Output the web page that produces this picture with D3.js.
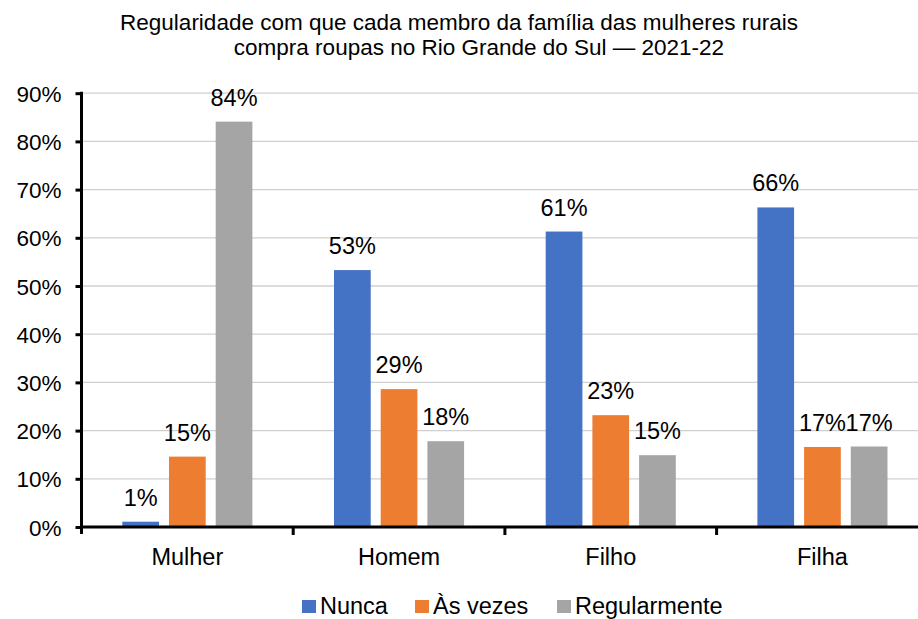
<!DOCTYPE html>
<html>
<head>
<meta charset="utf-8">
<script src="https://cdn.jsdelivr.net/npm/d3@7"></script>
<style>
    body { margin: 0; background: #fff; }
    svg { display: block; font-family: "Liberation Sans", Arial, sans-serif; }
</style>
</head>
<body>
<svg id="chart" width="918" height="619"></svg>
<script>
const titleLines = [
    "Regularidade com que cada membro da família das mulheres rurais",
    "compra roupas no Rio Grande do Sul — 2021-22"
];
const categories = ["Mulher", "Homem", "Filho", "Filha"];
const seriesNames = ["Nunca", "Às vezes", "Regularmente"];
const nunca = [1.1, 53.3, 61.3, 66.3];
const asVezes = [14.6, 28.6, 23.2, 16.6];
const regularmente = [84.1, 17.8, 14.9, 16.7];
const yTicks = [0, 10, 20, 30, 40, 50, 60, 70, 80, 90];
const colors = ["#4472C4", "#ED7D31", "#A5A5A5"];

const seriesValues = [nunca, asVezes, regularmente];

const svg = d3.select("#chart");

const plot = {left: 81.5, right: 928.3, top: 93.2, bottom: 527};

const x0 = d3.scaleBand()
    .domain(categories)
    .range([plot.left, plot.right]);

const x1 = d3.scaleBand()
    .domain(seriesNames)
    .range([0, x0.bandwidth()])
    .paddingInner(0.214)
    .paddingOuter(0.874);

const y = d3.scaleLinear()
    .domain([0, 90])
    .range([plot.bottom, plot.top]);

const color = d3.scaleOrdinal()
    .domain(seriesNames)
    .range(colors);

/**
 * Title, two centered lines
 */
svg.append("g")
    .selectAll("text")
    .data(titleLines)
    .join("text")
    .attr("x", (d, i) => i === 0 ? 459 : 479)
    .attr("y", (d, i) => 30 + i * 24.5)
    .attr("text-anchor", "middle")
    .attr("font-size", "22.5px")
    .attr("fill", "#000")
    .text(d => d);

// gridlines
svg.append("g")
    .selectAll("line")
    .data(yTicks.filter(t => t > 0))
    .join("line")
    .attr("x1", plot.left)
    .attr("x2", 918)
    .attr("y1", d => y(d))
    .attr("y2", d => y(d))
    .attr("stroke", "#D0D0D0")
    .attr("stroke-width", 1.3);

// bars
const groups = svg.append("g")
    .selectAll("g")
    .data(categories)
    .join("g")
    .attr("transform", d => `translate(${x0(d)},0)`);

const bars = groups.selectAll("g")
    .data((c, ci) => seriesNames.map((s, si) => ({series: s, value: seriesValues[si][ci]})))
    .join("g");

bars.append("rect")
    .attr("x", d => x1(d.series))
    .attr("y", d => y(d.value))
    .attr("width", x1.bandwidth())
    .attr("height", d => y(0) - y(d.value))
    .attr("fill", d => color(d.series));

bars.append("text")
    .attr("x", d => x1(d.series) + x1.bandwidth() / 2)
    .attr("y", d => y(d.value) - 16)
    .attr("text-anchor", "middle")
    .attr("font-size", "23.5px")
    .attr("fill", "#000")
    .text(d => Math.round(d.value) + "%");

/**
 * Y axis with outside tick marks
 */
const yAxis = svg.append("g")
    .attr("transform", `translate(${plot.left},0)`)
    .call(d3.axisLeft(y)
        .tickValues(yTicks)
        .tickSize(6)
        .tickPadding(14)
        .tickFormat(d => d + "%"));

yAxis.select(".domain").remove();
yAxis.selectAll(".tick line")
    .attr("stroke", "#000")
    .attr("stroke-width", 3);
yAxis.selectAll(".tick text")
    .attr("font-size", "22.5px")
    .attr("font-family", "Liberation Sans, Arial, sans-serif")
    .attr("fill", "#000")
    .attr("dy", "0.36em");

svg.append("line")
    .attr("x1", plot.left)
    .attr("x2", plot.left)
    .attr("y1", plot.top - 1.5)
    .attr("y2", plot.bottom + 7)
    .attr("stroke", "#000")
    .attr("stroke-width", 3);

/**
 * X axis, ticks between categories
 */
svg.append("line")
    .attr("x1", plot.left - 1.5)
    .attr("x2", 918)
    .attr("y1", plot.bottom)
    .attr("y2", plot.bottom)
    .attr("stroke", "#000")
    .attr("stroke-width", 3);

svg.append("g")
    .selectAll("line")
    .data(categories.slice(1))
    .join("line")
    .attr("x1", d => x0(d))
    .attr("x2", d => x0(d))
    .attr("y1", plot.bottom)
    .attr("y2", plot.bottom + 8)
    .attr("stroke", "#000")
    .attr("stroke-width", 3);

svg.append("g")
    .selectAll("text")
    .data(categories)
    .join("text")
    .attr("x", d => x0(d) + x0.bandwidth() / 2)
    .attr("y", 565)
    .attr("text-anchor", "middle")
    .attr("font-size", "23.5px")
    .attr("fill", "#000")
    .text(d => d);

// legend
const legendX = [302, 415, 557];
const legend = svg.append("g")
    .selectAll("g")
    .data(seriesNames)
    .join("g")
    .attr("transform", (d, i) => `translate(${legendX[i]},600)`);

legend.append("rect")
    .attr("width", 14)
    .attr("height", 13)
    .attr("fill", d => color(d));

legend.append("text")
    .attr("x", 18)
    .attr("y", 14)
    .attr("font-size", "23.5px")
    .attr("fill", "#000")
    .text(d => d);
</script>
</body>
</html>
